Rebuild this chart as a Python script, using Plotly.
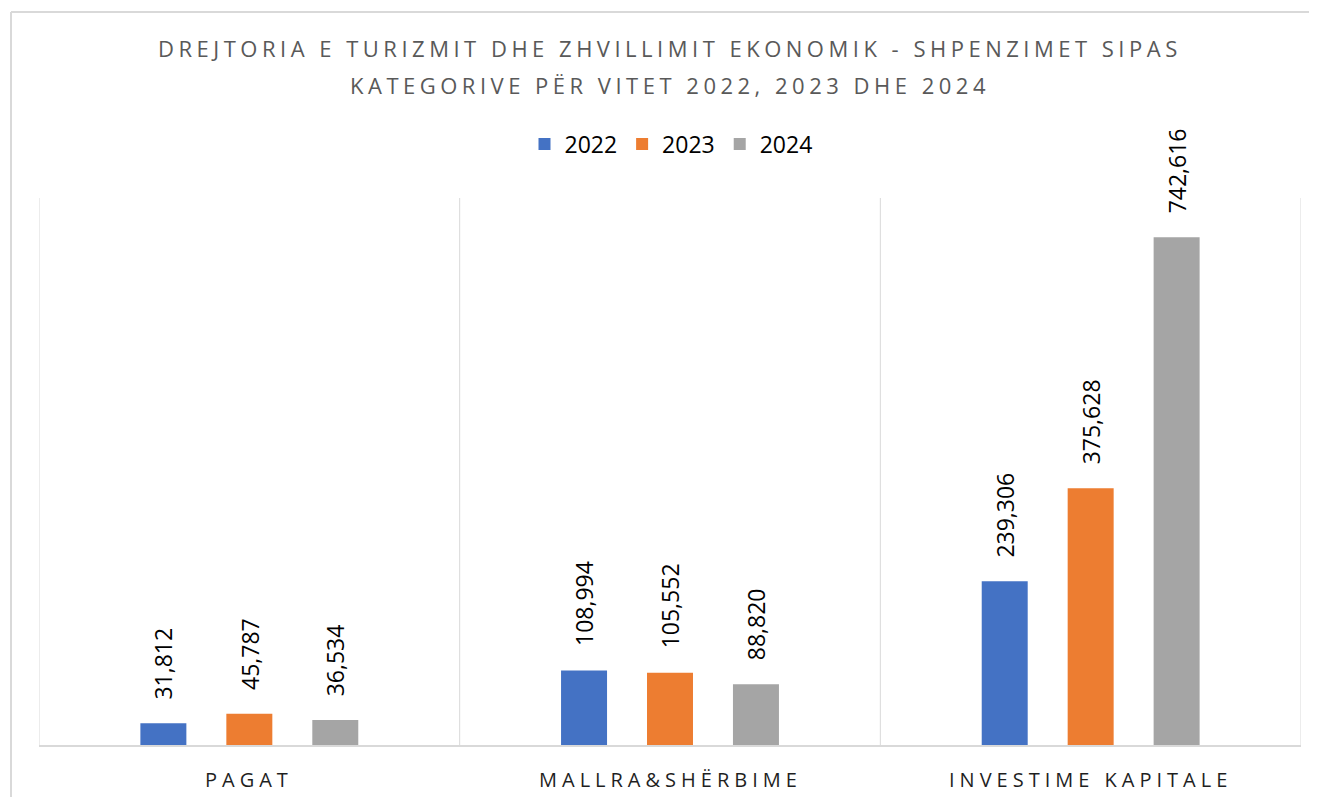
import plotly.graph_objects as go

categories = ["PAGAT", "MALLRA&SHËRBIME", "INVESTIME KAPITALE"]
years = ["2022", "2023", "2024"]
values_2022 = [31812, 108994, 239306]
values_2023 = [45787, 105552, 375628]
values_2024 = [36534, 88820, 742616]
colors = ["#4472C4", "#ED7D31", "#A5A5A5"]

FONT = "Open Sans"
BARGAP = 0.387

def spaced(t, sp):
    return f'<span style="letter-spacing:{sp}px">{t}</span>'

fig = go.Figure()
series = [values_2022, values_2023, values_2024]
for name, vals, col in zip(years, series, colors):
    fig.add_trace(go.Bar(
        x=categories, y=vals, name=name, marker=dict(color=col, line=dict(width=0)),
        cliponaxis=False,
    ))

# page body has an 8px margin; figure is sized to fit inside it
O = 8
W, H = 1317 - 2 * O, 805 - 2 * O
L, T = 39 - O, 198 - O
R = W - (1301 - O)
B = H - (745 - O)
pw, ph = W - L - R, H - T - B

def px_x(p):
    return (p - O - L) / pw

def px_y(p):
    return (745 - p) / ph

shapes = []
for xv in [-0.5, 0.5, 1.5, 2.5]:
    shapes.append(dict(type="line", xref="x", yref="paper", x0=xv, x1=xv, y0=0, y1=1,
                       line=dict(color="#D9D9D9", width=1), layer="below"))
shapes.append(dict(type="line", xref="paper", yref="paper", x0=px_x(11), x1=px_x(1340),
                   y0=px_y(12), y1=px_y(12), line=dict(color="#D9D9D9", width=2)))
shapes.append(dict(type="line", xref="paper", yref="paper", x0=px_x(11), x1=px_x(11),
                   y0=px_y(12), y1=px_y(830), line=dict(color="#D9D9D9", width=2)))

annotations = [
    dict(text=spaced("DREJTORIA E TURIZMIT DHE ZHVILLIMIT EKONOMIK - SHPENZIMET SIPAS", 4.5),
         xref="paper", yref="paper", x=px_x(670), y=px_y(48), xanchor="center", yanchor="middle",
         showarrow=False, font=dict(family=FONT, size=22, color="#595959")),
    dict(text=spaced("KATEGORIVE PËR VITET 2022, 2023 DHE 2024", 4.5),
         xref="paper", yref="paper", x=px_x(670), y=px_y(85), xanchor="center", yanchor="middle",
         showarrow=False, font=dict(family=FONT, size=22, color="#595959")),
]
for i, c in enumerate(categories):
    annotations.append(dict(text=spaced(c, 5), xref="x", yref="paper", x=i, y=px_y(780),
                            xanchor="center", yanchor="middle", showarrow=False,
                            font=dict(family=FONT, size=20, color="#1F1F1F")))

slot = (1 - BARGAP) * pw / len(categories) / len(years)
for j, vals in enumerate(series):
    for i, v in enumerate(vals):
        annotations.append(dict(text=f"{v:,}", xref="x", yref="y", x=categories[i], y=v,
                                xshift=(j - 1) * slot, yshift=22, textangle=-90,
                                xanchor="center", yanchor="bottom", showarrow=False,
                                font=dict(family=FONT, size=23, color="#000000")))

fig.update_layout(
    width=W, height=H,
    margin=dict(l=L, r=R, t=T, b=B, pad=0),
    paper_bgcolor="white", plot_bgcolor="white",
    barmode="group", bargap=BARGAP, bargroupgap=0.465,
    showlegend=True,
    legend=dict(orientation="h", x=px_x(671), xanchor="center", y=px_y(144), yanchor="middle",
                font=dict(family=FONT, size=23, color="#000000"), itemwidth=30,
                bgcolor="rgba(0,0,0,0)"),
    xaxis=dict(showticklabels=False, showgrid=False, zeroline=False, showline=True,
               linecolor="#D9D9D9", linewidth=2, ticks="", range=[-0.5, 2.5]),
    yaxis=dict(range=[0, 800000], showgrid=False, zeroline=False, showline=False,
               showticklabels=False, ticks=""),
    shapes=shapes, annotations=annotations,
)

fig.write_html("out.html")
